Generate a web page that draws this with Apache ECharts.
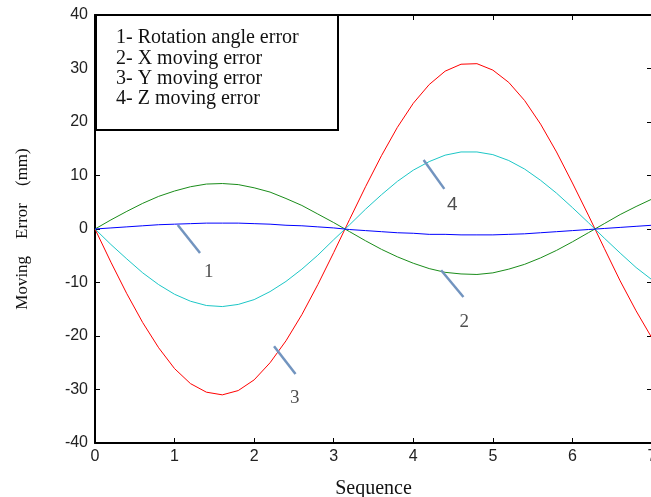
<!DOCTYPE html>
<html>
<head>
<meta charset="utf-8">
<script src="https://cdn.jsdelivr.net/npm/echarts@6/dist/echarts.min.js"></script>
<style>
  html, body { margin: 0; padding: 0; background: #fff; }
  #chart { width: 651px; height: 497px; }
</style>
</head>
<body>
<div id="chart"></div>
<script>
// sequence positions
const xs = [0, 0.2, 0.4, 0.6, 0.8, 1.0, 1.2, 1.4, 1.6, 1.8, 2.0, 2.2, 2.4, 2.6, 2.8, 3.0, 3.2, 3.4,
  3.6, 3.8, 4.0, 4.2, 4.4, 4.6, 4.8, 5.0, 5.2, 5.4, 5.6, 5.8, 6.0, 6.2, 6.4, 6.6, 6.8, 7.0];

// 1 - rotation angle error
const rotErr = [0, 0.2, 0.4, 0.6, 0.8, 0.9, 1.0, 1.1, 1.1, 1.1, 1.0, 0.9, 0.7, 0.6, 0.4, 0.2, -0.1, -0.3,
  -0.5, -0.7, -0.8, -1.0, -1.0, -1.1, -1.1, -1.1, -1.0, -0.9, -0.7, -0.5, -0.3, -0.1, 0.1, 0.3, 0.5, 0.7];
// 2 - X moving error
const xErr = [0, 1.7, 3.3, 4.8, 6.1, 7.1, 7.9, 8.4, 8.5, 8.3, 7.7, 6.9, 5.7, 4.4, 2.8, 1.2, -0.5, -2.2,
  -3.8, -5.2, -6.4, -7.4, -8.1, -8.4, -8.5, -8.2, -7.5, -6.6, -5.4, -4.0, -2.4, -0.7, 1.0, 2.7, 4.2, 5.6];
// 3 - Y moving error
const yErr = [0, -6.2, -12.1, -17.5, -22.2, -26.1, -28.9, -30.5, -31.0, -30.2, -28.2, -25.0, -20.9, -16.0, -10.4, -4.4, 1.8, 7.9,
  13.7, 19.0, 23.5, 27.0, 29.5, 30.8, 30.9, 29.7, 27.4, 24.0, 19.6, 14.4, 8.6, 2.6, -3.6, -9.7, -15.3, -20.4];
// 4 - Z moving error
const zErr = [0, -2.9, -5.6, -8.2, -10.4, -12.2, -13.5, -14.3, -14.5, -14.1, -13.2, -11.7, -9.8, -7.5, -4.9, -2.0, 0.8, 3.7,
  6.4, 8.9, 11.0, 12.6, 13.8, 14.4, 14.4, 13.9, 12.8, 11.2, 9.1, 6.7, 4.0, 1.2, -1.7, -4.5, -7.2, -9.5];

const legendLines = ['1- Rotation angle error', '2- X moving error', '3- Y moving error', '4- Z moving error'];

// pointer lines [x1, y1, x2, y2] and label positions, in data units
const pointers = [
  [1.04, 0.75, 1.32, -4.5],
  [4.35, -7.7, 4.63, -12.7],
  [2.25, -21.9, 2.52, -27.1],
  [4.13, 12.9, 4.39, 7.5]
];
const pointerLabels = ['1', '2', '3', '4'];
const labelPos = [[1.43, -8], [4.64, -17.4], [2.51, -31.6], [4.49, 4.5]];

const zip = (a, b) => a.map((v, i) => [v, b[i]]);

const serif = '"Liberation Serif", "Times New Roman", serif';
const sans = '"Liberation Sans", Arial, sans-serif';

const chart = echarts.init(document.getElementById('chart'));

const curve = (data, color) => ({
  type: 'line', data: zip(xs, data), symbol: 'none', animation: false,
  lineStyle: { color: color, width: 1 }, z: 3
});

const series = [
  curve(yErr, '#ff0000'),
  curve(zErr, '#1cc6c6'),
  curve(xErr, '#1a8c1a'),
  curve(rotErr, '#0000ff')
];

pointers.forEach((p, i) => {
  series.push({
    type: 'line', data: [[p[0], p[1]], [p[2], p[3]]], symbol: 'none', animation: false,
    lineStyle: { color: '#7294bf', width: 2.5 }, z: 4
  });
  series.push({
    type: 'scatter', data: [labelPos[i]], symbolSize: 0, animation: false, z: 5,
    label: {
      show: true, position: 'inside', formatter: pointerLabels[i],
      fontFamily: i === 3 ? sans : serif, fontSize: 19, color: '#222'
    }
  });
});

const graphics = [{
  type: 'rect', left: 95, top: 14, z: 10,
  shape: { width: 242, height: 115 },
  style: { fill: '#fff', stroke: '#000', lineWidth: 2 }
}];
legendLines.forEach((t, i) => {
  graphics.push({
    type: 'text', left: 116, top: 28 + i * 20.3, z: 11,
    style: { text: t, font: '20px ' + serif, fill: '#111' }
  });
});

const tickLine = { show: true, inside: true, length: 5, lineStyle: { color: '#000', width: 1 } };

chart.setOption({
  animation: false,
  grid: { left: 95, top: 15, width: 557, height: 428, outerBoundsMode: 'none' },
  xAxis: [{
    type: 'value', min: 0, max: 7, interval: 1, position: 'bottom',
    name: 'Sequence', nameLocation: 'middle', nameGap: 36,
    nameTextStyle: { fontFamily: serif, fontSize: 20, color: '#111' },
    axisLine: { onZero: false, lineStyle: { color: '#000', width: 2 } },
    axisTick: tickLine,
    axisLabel: { fontFamily: sans, fontSize: 16, color: '#222', margin: 6 },
    splitLine: { show: false }
  }, {
    type: 'value', min: 0, max: 7, interval: 1, position: 'top',
    axisLine: { onZero: false, lineStyle: { color: '#000', width: 2 } },
    axisTick: tickLine, axisLabel: { show: false }, splitLine: { show: false }
  }],
  yAxis: [{
    type: 'value', min: -40, max: 40, interval: 10, position: 'left',
    name: 'Moving    Error    (mm)', nameLocation: 'middle', nameGap: 64,
    nameTextStyle: { fontFamily: serif, fontSize: 17, color: '#111' },
    axisLine: { onZero: false, lineStyle: { color: '#000', width: 2 } },
    axisTick: tickLine,
    axisLabel: { fontFamily: sans, fontSize: 16, color: '#222', margin: 7 },
    splitLine: { show: false }
  }, {
    type: 'value', min: -40, max: 40, interval: 10, position: 'right',
    axisLine: { onZero: false, lineStyle: { color: '#000', width: 2 } },
    axisTick: tickLine, axisLabel: { show: false }, splitLine: { show: false }
  }],
  series: series,
  graphic: graphics
});
</script>
</body>
</html>
